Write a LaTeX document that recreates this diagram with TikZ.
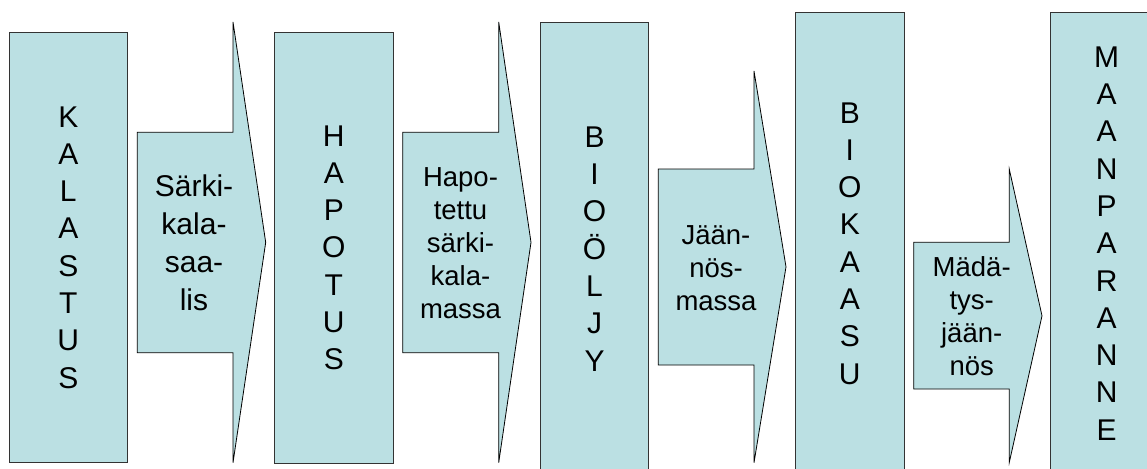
\documentclass[tikz,border=0pt]{standalone}
\usepackage{fontspec}
\setmainfont{Liberation Sans}
\definecolor{panel}{HTML}{BBE0E3}
\tikzset{
  stage/.style={fill=panel, draw=black!80, line width=0.8pt, inner sep=0pt,
    align=center, font=\fontsize{30}{37.3}\selectfont},
  flow/.style={fill=panel, draw=black, line width=0.8pt, line join=miter},
  flowtext/.style={align=center, inner sep=0pt, font=\fontsize{27.5}{33}\selectfont},
}
\begin{document}
\begin{tikzpicture}[x=1pt, y=-1pt]
\useasboundingbox (0,0) rectangle (1147,468);
\clip (0,0) rectangle (1147,468);

% process stages
\node[stage, minimum width=118pt, minimum height=430.7pt] (kalastus) at (68.3,247.4)
  {K\\A\\L\\A\\S\\T\\U\\S};
\node[stage, minimum width=118.3pt, minimum height=430.7pt] (hapotus) at (333.8,247.8)
  {H\\A\\P\\O\\T\\U\\S};
\node[stage, minimum width=108.4pt, minimum height=453.6pt] (bioolje) at (594.5,248.8)
  {B\\I\\O\\Ö\\L\\J\\Y};
\node[stage, minimum width=108.3pt, minimum height=462.2pt] (biokaasu) at (849.8,243.4)
  {B\\I\\O\\K\\A\\A\\S\\U};
\node[stage, minimum width=112pt, minimum height=462.2pt] (maanparanne) at (1106.7,243.4)
  {M\\A\\A\\N\\P\\A\\R\\A\\N\\N\\E};

% block arrows between the stages
\draw[flow] (137.3,132.3) -- (233,132.3) -- (233,22) -- (265.7,242.4)
  -- (233,462.7) -- (233,352.7) -- (137.3,352.7) -- cycle;
\draw[flow] (402.7,132.3) -- (498.7,132.3) -- (498.7,22) -- (531,242.4)
  -- (498.7,462.7) -- (498.7,352.7) -- (402.7,352.7) -- cycle;
\draw[flow] (658.3,169) -- (754,169) -- (754,71) -- (786,266.9)
  -- (754,462.7) -- (754,365) -- (658.3,365) -- cycle;
\draw[flow] (913.7,242.3) -- (1009.3,242.3) -- (1009.3,169.3) -- (1042,315.8)
  -- (1009.3,462.3) -- (1009.3,389) -- (913.7,389) -- cycle;

% arrow labels
\node[flowtext, font=\fontsize{30}{37.8}\selectfont] (saalis) at (194,242.6)
  {Särki-\\kala-\\saa-\\lis};
\node[flowtext] (massa) at (460.5,242.7)
  {Hapo-\\tettu\\särki-\\kala-\\massa};
\node[flowtext] (jaannos) at (716,267.7)
  {Jään-\\nös-\\massa};
\node[flowtext] (madatys) at (971.7,316)
  {Mädä-\\tys-\\jään-\\nös};
\end{tikzpicture}
\end{document}
